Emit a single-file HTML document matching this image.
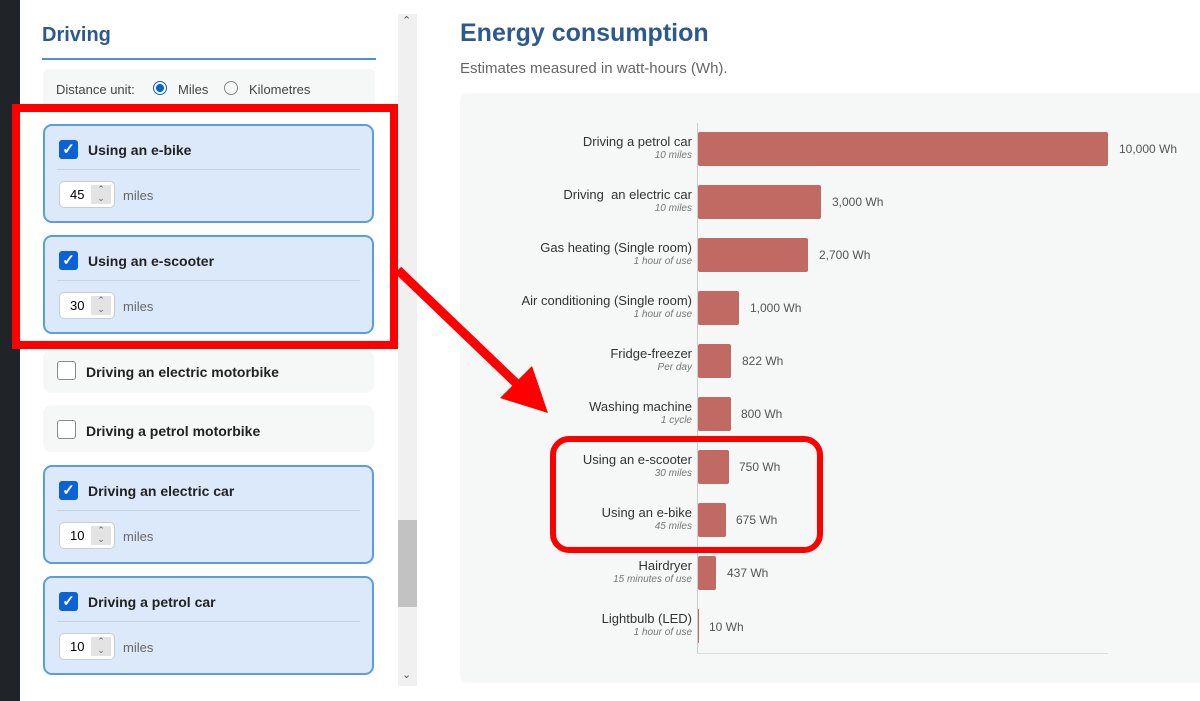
<html><head><style>
body{margin:0;width:1200px;height:701px;overflow:hidden;background:#fff;font-family:"Liberation Sans",sans-serif;position:relative}
.a{position:absolute}
.card{position:absolute;left:43px;width:331px;background:#dce9fb;border:2px solid #5c9ce0;border-radius:9px;box-sizing:border-box}
.card.off{background:#f6f7f7;border:none}
.cb{position:absolute;left:14px;width:19px;height:19px;background:#0b62d6;border-radius:3px;color:#fff;font-size:15px;line-height:19px;text-align:center;font-weight:bold}
.cb.u{background:#fff;border:1px solid #888;box-sizing:border-box}
.lab{position:absolute;left:43px;font-size:14px;font-weight:bold;color:#222}
.hr{position:absolute;left:12px;right:12px;top:43px;border-top:1px solid #c8d3e0}
.inp{position:absolute;left:14px;top:55px;width:56px;height:27px;background:#fff;border:1px solid #c9cdd2;border-radius:5px;box-sizing:border-box;font-size:13px;line-height:25px;padding-left:10px}
.inp i{position:absolute;left:31px;top:3px;width:20px;height:19px;background:#e3e3e3;font-style:normal;font-size:9px;color:#666;text-align:center;line-height:9px}
.mi{position:absolute;left:78px;top:62px;font-size:13px;color:#666}
.rl{position:absolute;right:508px;text-align:right;font-size:13px;color:#333;white-space:nowrap}
.rl small{display:block;font-size:10px;font-style:italic;color:#777;margin-top:1px}
.bar{position:absolute;left:698px;height:34px;background:#c06a63;border-radius:2px}
.v{position:absolute;font-size:12px;color:#555}
</style></head><body>
<div class="a" style="left:0;top:0;width:20px;height:701px;background:#202428"></div>
<div class="a" style="left:42px;top:24px;font-size:20px;font-weight:bold;color:#2c5a8c">Driving</div>
<div class="a" style="left:42px;top:58px;width:334px;border-top:2px solid #4f8fd8"></div>
<div class="a" style="left:43px;top:69px;width:332px;height:40px;background:#f6f7f7;border-radius:6px"></div>
<div class="a" style="left:56px;top:82px;font-size:13px;color:#444">Distance unit:</div>
<div class="a" style="left:153px;top:81px;width:14px;height:14px;border-radius:50%;border:1px solid #0b62d6;box-sizing:border-box;background:radial-gradient(#0b62d6 45%,#fff 50%)"></div>
<div class="a" style="left:178px;top:82px;font-size:13px;color:#444">Miles</div>
<div class="a" style="left:224px;top:81px;width:14px;height:14px;border-radius:50%;border:1px solid #888;box-sizing:border-box"></div>
<div class="a" style="left:249px;top:82px;font-size:13px;color:#444">Kilometres</div>

<div class="card" style="top:124px;height:99px"><div class="cb" style="top:14px">✓</div><div class="lab" style="top:16px">Using an e-bike</div><div class="hr"></div><div class="inp">45<i>⌃<br>⌄</i></div><div class="mi">miles</div></div>
<div class="card" style="top:235px;height:99px"><div class="cb" style="top:14px">✓</div><div class="lab" style="top:16px">Using an e-scooter</div><div class="hr"></div><div class="inp">30<i>⌃<br>⌄</i></div><div class="mi">miles</div></div>
<div class="card off" style="top:350px;height:43px"><div class="cb u" style="top:11px;left:14px"></div><div class="lab" style="top:14px">Driving an electric motorbike</div></div>
<div class="card off" style="top:405px;height:47px"><div class="cb u" style="top:15px;left:14px"></div><div class="lab" style="top:18px">Driving a petrol motorbike</div></div>
<div class="card" style="top:465px;height:99px"><div class="cb" style="top:14px">✓</div><div class="lab" style="top:16px">Driving an electric car</div><div class="hr"></div><div class="inp">10<i>⌃<br>⌄</i></div><div class="mi">miles</div></div>
<div class="card" style="top:576px;height:99px"><div class="cb" style="top:14px">✓</div><div class="lab" style="top:16px">Driving a petrol car</div><div class="hr"></div><div class="inp">10<i>⌃<br>⌄</i></div><div class="mi">miles</div></div>

<div class="a" style="left:398px;top:14px;width:19px;height:672px;background:#f0f0f0"></div>
<div class="a" style="left:398px;top:520px;width:19px;height:87px;background:#c2c2c2"></div>
<div class="a" style="left:402px;top:14px;font-size:11px;color:#555">⌃</div>
<div class="a" style="left:402px;top:668px;font-size:11px;color:#555">⌄</div>

<div class="a" style="left:460px;top:19px;font-size:25px;font-weight:bold;color:#2c5a8c">Energy consumption</div>
<div class="a" style="left:460px;top:60px;font-size:15px;color:#666">Estimates measured in watt-hours (Wh).</div>
<div class="a" style="left:460px;top:93px;width:745px;height:590px;background:#f6f7f7;border-radius:8px"></div>
<div class="a" style="left:697px;top:123px;width:1px;height:530px;background:#ccc"></div>
<div class="a" style="left:697px;top:653px;width:411px;height:1px;background:#ddd"></div>

<div class="rl" style="top:134px">Driving a petrol car<small>10 miles</small></div>
<div class="bar" style="top:132px;width:410px"></div><div class="v" style="left:1119px;top:142px">10,000 Wh</div>
<div class="rl" style="top:187px">Driving&nbsp; an electric car<small>10 miles</small></div>
<div class="bar" style="top:185px;width:123px"></div><div class="v" style="left:832px;top:195px">3,000 Wh</div>
<div class="rl" style="top:240px">Gas heating (Single room)<small>1 hour of use</small></div>
<div class="bar" style="top:238px;width:110px"></div><div class="v" style="left:819px;top:248px">2,700 Wh</div>
<div class="rl" style="top:293px">Air conditioning (Single room)<small>1 hour of use</small></div>
<div class="bar" style="top:291px;width:41px"></div><div class="v" style="left:750px;top:301px">1,000 Wh</div>
<div class="rl" style="top:346px">Fridge-freezer<small>Per day</small></div>
<div class="bar" style="top:344px;width:33px"></div><div class="v" style="left:742px;top:354px">822 Wh</div>
<div class="rl" style="top:399px">Washing machine<small>1 cycle</small></div>
<div class="bar" style="top:397px;width:33px"></div><div class="v" style="left:741px;top:407px">800 Wh</div>
<div class="rl" style="top:452px">Using an e-scooter<small>30 miles</small></div>
<div class="bar" style="top:450px;width:31px"></div><div class="v" style="left:739px;top:460px">750 Wh</div>
<div class="rl" style="top:505px">Using an e-bike<small>45 miles</small></div>
<div class="bar" style="top:503px;width:28px"></div><div class="v" style="left:736px;top:513px">675 Wh</div>
<div class="rl" style="top:558px">Hairdryer<small>15 minutes of use</small></div>
<div class="bar" style="top:556px;width:18px"></div><div class="v" style="left:727px;top:566px">437 Wh</div>
<div class="rl" style="top:611px">Lightbulb (LED)<small>1 hour of use</small></div>
<div class="bar" style="top:609px;width:1px"></div><div class="v" style="left:709px;top:620px">10 Wh</div>

<svg class="a" style="left:0;top:0" width="1200" height="701">
<rect x="16" y="108" width="378" height="237" fill="none" stroke="#f00" stroke-width="8"/>
<line x1="398" y1="270" x2="518" y2="385" stroke="#f00" stroke-width="9"/>
<polygon points="548,413 500,398 532,366" fill="#f00"/>
<rect x="553" y="439" width="267" height="111" rx="16" fill="none" stroke="#f00" stroke-width="6"/>
</svg>
</body></html>
